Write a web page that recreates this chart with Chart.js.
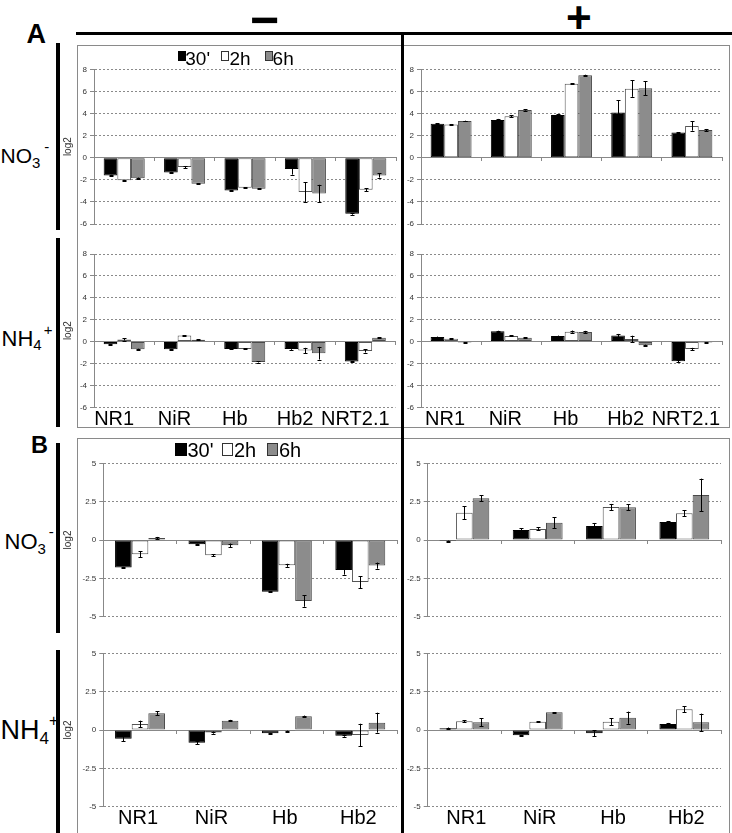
<!DOCTYPE html>
<html><head><meta charset="utf-8">
<script src="https://cdn.jsdelivr.net/npm/chart.js@4.4.0/dist/chart.umd.min.js"></script>
<style>
html,body{margin:0;padding:0;background:#fff;}
#page{position:relative;width:732px;height:833px;overflow:hidden;font-family:"Liberation Sans",Arial,sans-serif;background:#fff;}
.t{position:absolute;line-height:1;white-space:nowrap;color:#000;z-index:6;}
canvas{position:absolute;z-index:2;}
.rule{position:absolute;background:#000;z-index:5;}
.box{position:absolute;border:1px solid #8a8a8a;box-sizing:border-box;z-index:1;}
.sq{position:absolute;box-sizing:border-box;z-index:6;}
</style></head>
<body><div id="page">
  <div class="box" style="left:77px;top:45px;width:653px;height:383px;"></div>
  <div class="box" style="left:77px;top:438px;width:653px;height:420px;"></div>

  <div class="rule" style="left:76px;top:32px;width:656px;height:3px;"></div>
  <div class="rule" style="left:401px;top:32px;width:3px;height:801px;"></div>
  <div class="rule" style="left:56px;top:43px;width:4px;height:187px;"></div>
  <div class="rule" style="left:56px;top:238px;width:4px;height:189px;"></div>
  <div class="rule" style="left:56px;top:443px;width:4px;height:190px;"></div>
  <div class="rule" style="left:56px;top:650px;width:4px;height:183px;"></div>

  <div class="t" style="left:26.5px;top:20.6px;font-size:27px;font-weight:bold;">A</div>
  <div class="t" style="left:31px;top:433.5px;font-size:23.5px;font-weight:bold;">B</div>
  <div class="t" style="left:250px;top:-5px;font-size:50px;font-weight:bold;">−</div>
  <div class="t" style="left:566px;top:-4px;font-size:44px;font-weight:bold;">+</div>

  <div class="t" style="left:0.5px;top:145.2px;font-size:21px;">NO<span style="font-size:15px;position:relative;top:4.5px;">3</span><span style="font-size:15px;position:relative;top:-11px;margin-left:4px;">-</span></div>
  <div class="t" style="left:1.5px;top:328.4px;font-size:22px;">NH<span style="font-size:15px;position:relative;top:4px;">4</span><span style="font-size:15px;position:relative;top:-11px;margin-left:2px;">+</span></div>
  <div class="t" style="left:4.5px;top:531.4px;font-size:22px;">NO<span style="font-size:15px;position:relative;top:4.5px;">3</span><span style="font-size:15px;position:relative;top:-12px;margin-left:3px;">-</span></div>
  <div class="t" style="left:0.5px;top:717px;font-size:27px;">NH<span style="font-size:17px;position:relative;top:5px;">4</span><span style="font-size:16px;position:relative;top:-13px;margin-left:0px;">+</span></div>

  <div class="sq" style="left:178px;top:51px;width:8px;height:10px;background:#000;"></div>
  <div class="t" style="left:185.3px;top:48.9px;font-size:19px;">30'</div>
  <div class="sq" style="left:221px;top:51px;width:8px;height:10px;background:#fff;border:1px solid #333;"></div>
  <div class="t" style="left:229.5px;top:48.9px;font-size:19px;">2h</div>
  <div class="sq" style="left:264.5px;top:51px;width:8px;height:10px;background:#8c8c8c;border:1px solid #333;"></div>
  <div class="t" style="left:272.6px;top:48.9px;font-size:19px;">6h</div>

  <div class="sq" style="left:175px;top:443px;width:12px;height:13px;background:#000;"></div>
  <div class="t" style="left:187.5px;top:440px;font-size:20px;">30'</div>
  <div class="sq" style="left:222px;top:443px;width:11px;height:13px;background:#fff;border:1px solid #333;"></div>
  <div class="t" style="left:234px;top:440px;font-size:20px;">2h</div>
  <div class="sq" style="left:267px;top:443px;width:11px;height:13px;background:#8c8c8c;border:1px solid #333;"></div>
  <div class="t" style="left:279px;top:440px;font-size:20px;">6h</div>
</div>
<script>
// ---------- data ----------
const genesA = ['NR1', 'NiR', 'Hb', 'Hb2', 'NRT2.1'];
const genesB = ['NR1', 'NiR', 'Hb', 'Hb2'];
const timePoints = ["30'", '2h', '6h'];
const yTicksA = [-6, -4, -2, 0, 2, 4, 6, 8];
const yTicksB = [-5, -2.5, 0, 2.5, 5];

// A, NO3-, minus
const aNo3Minus30 = [-1.6, -1.33, -2.96, -1.03, -5.08];
const aNo3Minus30Err = [0.05, 0.05, 0.03, 0.5, 0.08];
const aNo3Minus2h = [-2.05, -0.85, -2.72, -3.1, -2.9];
const aNo3Minus2hErr = [0.03, 0.1, 0.03, 0.9, 0.12];
const aNo3Minus6h = [-1.85, -2.35, -2.8, -3.23, -1.6];
const aNo3Minus6hErr = [0.05, 0.05, 0.04, 0.78, 0.2];
// A, NO3-, plus
const aNo3Plus30 = [3.08, 3.41, 3.87, 4.1, 2.27];
const aNo3Plus30Err = [0.02, 0.1, 0.05, 1.1, 0.03];
const aNo3Plus2h = [3.0, 3.75, 6.7, 6.25, 2.87];
const aNo3Plus2hErr = [0.05, 0.1, 0.05, 0.74, 0.42];
const aNo3Plus6h = [3.32, 4.32, 7.46, 6.28, 2.5];
const aNo3Plus6hErr = [0.03, 0.06, 0.05, 0.64, 0.1];
// A, NH4+, minus
const aNh4Minus30 = [-0.25, -0.7, -0.67, -0.67, -1.82];
const aNh4Minus30Err = [0.03, 0.03, 0.05, 0.08, 0.05];
const aNh4Minus2h = [0.2, 0.55, -0.67, -0.82, -0.85];
const aNh4Minus2hErr = [0.1, 0.03, 0.05, 0.25, 0.15];
const aNh4Minus6h = [-0.7, 0.18, -1.86, -1.06, 0.36];
const aNh4Minus6hErr = [0.05, 0.03, 0.05, 0.58, 0.03];
// A, NH4+, plus
const aNh4Plus30 = [0.43, 0.94, 0.52, 0.55, -1.8];
const aNh4Plus30Err = [0.03, 0.05, 0.03, 0.15, 0.08];
const aNh4Plus2h = [0.27, 0.52, 0.91, 0.24, -0.67];
const aNh4Plus2hErr = [0.05, 0.05, 0.1, 0.3, 0.1];
const aNh4Plus6h = [-0.09, 0.36, 0.88, -0.33, -0.09];
const aNh4Plus6hErr = [0.02, 0.05, 0.1, 0.05, 0.02];
// B, NO3-, minus
const bNo3Minus30 = [-1.8, -0.28, -3.37, -1.96];
const bNo3Minus30Err = [0.05, 0.04, 0.04, 0.3];
const bNo3Minus2h = [-0.93, -1.0, -1.65, -2.74];
const bNo3Minus2hErr = [0.2, 0.07, 0.1, 0.39];
const bNo3Minus6h = [0.13, -0.35, -3.98, -1.67];
const bNo3Minus6hErr = [0.07, 0.12, 0.37, 0.2];
// B, NO3-, plus
const bNo3Plus30 = [-0.07, 0.65, 0.91, 1.17];
const bNo3Plus30Err = [0.03, 0.1, 0.2, 0.07];
const bNo3Plus2h = [1.78, 0.72, 2.15, 1.74];
const bNo3Plus2hErr = [0.41, 0.1, 0.2, 0.2];
const bNo3Plus6h = [2.72, 1.13, 2.13, 2.93];
const bNo3Plus6hErr = [0.2, 0.35, 0.2, 1.07];
// B, NH4+, minus
const bNh4Minus30 = [-0.57, -0.83, -0.22, -0.37];
const bNh4Minus30Err = [0.15, 0.1, 0.03, 0.07];
const bNh4Minus2h = [0.39, -0.17, -0.07, -0.33];
const bNh4Minus2hErr = [0.22, 0.07, 0.03, 0.74];
const bNh4Minus6h = [1.09, 0.61, 0.89, 0.48];
const bNh4Minus6hErr = [0.13, 0.05, 0.05, 0.65];
// B, NH4+, plus
const bNh4Plus30 = [0.11, -0.35, -0.22, 0.39];
const bNh4Plus30Err = [0.05, 0.02, 0.2, 0.07];
const bNh4Plus2h = [0.57, 0.54, 0.54, 1.35];
const bNh4Plus2hErr = [0.07, 0.02, 0.22, 0.2];
const bNh4Plus6h = [0.5, 1.15, 0.8, 0.5];
const bNh4Plus6hErr = [0.26, 0.02, 0.4, 0.57];

// ---------- drawing ----------
Chart.defaults.font.family = '"Liberation Sans", Arial, sans-serif';
const seriesStyle = [
  {bg: '#000000', border: '#000000'},
  {bg: '#ffffff', border: '#555555'},
  {bg: '#8c8c8c', border: '#4a4a4a'}
];

const errorBars = {
  id: 'errorBars',
  afterDatasetsDraw(chart) {
    const ctx = chart.ctx, ys = chart.scales.y;
    chart.data.datasets.forEach((ds, i) => {
      const meta = chart.getDatasetMeta(i);
      meta.data.forEach((bar, j) => {
        const e = ds.errors[j];
        if (!e) return;
        const v = ds.data[j];
        const yTop = ys.getPixelForValue(v + e), yBot = ys.getPixelForValue(v - e);
        const x = Math.round(bar.x) + 0.5;
        ctx.save();
        ctx.strokeStyle = '#000'; ctx.lineWidth = 1;
        ctx.beginPath();
        ctx.moveTo(x, yTop); ctx.lineTo(x, yBot);
        ctx.moveTo(x - 2, Math.round(yTop) + 0.5); ctx.lineTo(x + 2, Math.round(yTop) + 0.5);
        ctx.moveTo(x - 2, Math.round(yBot) + 0.5); ctx.lineTo(x + 2, Math.round(yBot) + 0.5);
        ctx.stroke();
        ctx.restore();
      });
    });
  }
};

function panel(p) {
  const cv = document.createElement('canvas');
  cv.width = p.w; cv.height = p.h;
  cv.style.left = p.x + 'px'; cv.style.top = p.y + 'px';
  document.getElementById('page').appendChild(cv);
  const scales = {
    x: {
      axis: 'x', type: 'category', position: {y: 0}, offset: true,
      grid: {display: true, offset: true, drawOnChartArea: false, drawTicks: true, tickLength: 3, color: '#888', tickColor: '#888'},
      border: {display: true, color: '#888', width: 1},
      ticks: {display: false}
    },
    y: {
      type: 'linear', position: 'left', min: p.min, max: p.max,
      afterBuildTicks: s => { s.ticks = p.ticks.map(v => ({value: v})); },
      afterFit: s => { s.width = p.yW; },
      grid: {color: '#8a8a8a', lineWidth: 1, drawTicks: true, tickLength: 4, tickColor: '#888', tickBorderDash: []},
      border: {display: true, color: '#888', width: 1, dash: [2, 2]},
      ticks: {font: {size: 8}, color: '#333', padding: 3, callback: v => String(v)},
      title: {display: !!p.title, text: 'log2', font: {size: 10}, color: '#333', padding: {top: 0, bottom: 0}}
    }
  };
  if (p.labelH) {
    scales.xl = {
      type: 'category', position: 'bottom', offset: true,
      grid: {display: false, drawTicks: false}, border: {display: false},
      ticks: {font: {size: 20}, color: '#000', padding: 0, maxRotation: 0, minRotation: 0, autoSkip: false, labelOffset: p.labelOffset || 0},
      afterFit: s => { s.height = p.labelH; }
    };
  }
  new Chart(cv, {
    type: 'bar',
    data: {
      labels: p.labels,
      datasets: p.series.map((s, i) => ({
        label: timePoints[i], data: s[0], errors: s[1],
        backgroundColor: seriesStyle[i].bg, borderColor: seriesStyle[i].border,
        borderWidth: 1, borderSkipped: false,
        barPercentage: 1, categoryPercentage: 0.68
      }))
    },
    options: {
      responsive: false, animation: false, devicePixelRatio: 1,
      layout: {padding: p.pad},
      plugins: {legend: {display: false}, tooltip: {enabled: false}},
      scales
    },
    plugins: [errorBars]
  });
}

panel({x: 62, y: 46, w: 338, h: 186, labels: genesA, ticks: yTicksA, min: -6, max: 8, yW: 32, title: true,
  pad: {top: 23.3, right: 4, bottom: 8, left: 0},
  series: [[aNo3Minus30, aNo3Minus30Err], [aNo3Minus2h, aNo3Minus2hErr], [aNo3Minus6h, aNo3Minus6hErr]]});
panel({x: 402, y: 46, w: 328, h: 186, labels: genesA, ticks: yTicksA, min: -6, max: 8, yW: 19,
  pad: {top: 23.3, right: 8, bottom: 8, left: 0},
  series: [[aNo3Plus30, aNo3Plus30Err], [aNo3Plus2h, aNo3Plus2hErr], [aNo3Plus6h, aNo3Plus6hErr]]});
panel({x: 62, y: 236, w: 338, h: 193, labels: genesA, ticks: yTicksA, min: -6, max: 8, yW: 32, title: true,
  pad: {top: 18, right: 4, bottom: 0, left: 0}, labelH: 21.7, labelOffset: -10,
  series: [[aNh4Minus30, aNh4Minus30Err], [aNh4Minus2h, aNh4Minus2hErr], [aNh4Minus6h, aNh4Minus6hErr]]});
panel({x: 402, y: 236, w: 328, h: 193, labels: genesA, ticks: yTicksA, min: -6, max: 8, yW: 19,
  pad: {top: 18, right: 8, bottom: 0, left: 0}, labelH: 21.7, labelOffset: -6,
  series: [[aNh4Plus30, aNh4Plus30Err], [aNh4Plus2h, aNh4Plus2hErr], [aNh4Plus6h, aNh4Plus6hErr]]});
panel({x: 62, y: 440, w: 338, h: 194, labels: genesB, ticks: yTicksB, min: -5, max: 5, yW: 41.3, title: true,
  pad: {top: 23.3, right: 3, bottom: 17.3, left: 0},
  series: [[bNo3Minus30, bNo3Minus30Err], [bNo3Minus2h, bNo3Minus2hErr], [bNo3Minus6h, bNo3Minus6hErr]]});
panel({x: 402, y: 440, w: 328, h: 194, labels: genesB, ticks: yTicksB, min: -5, max: 5, yW: 25.7,
  pad: {top: 23.3, right: 9, bottom: 17.3, left: 0},
  series: [[bNo3Plus30, bNo3Plus30Err], [bNo3Plus2h, bNo3Plus2hErr], [bNo3Plus6h, bNo3Plus6hErr]]});
panel({x: 62, y: 636, w: 338, h: 197, labels: genesB, ticks: yTicksB, min: -5, max: 5, yW: 41.3, title: true,
  pad: {top: 17.3, right: 3, bottom: 0, left: 0}, labelH: 26.3, labelOffset: -2,
  series: [[bNh4Minus30, bNh4Minus30Err], [bNh4Minus2h, bNh4Minus2hErr], [bNh4Minus6h, bNh4Minus6hErr]]});
panel({x: 402, y: 636, w: 328, h: 197, labels: genesB, ticks: yTicksB, min: -5, max: 5, yW: 25.7,
  pad: {top: 17.3, right: 9, bottom: 0, left: 0}, labelH: 26.3, labelOffset: 2,
  series: [[bNh4Plus30, bNh4Plus30Err], [bNh4Plus2h, bNh4Plus2hErr], [bNh4Plus6h, bNh4Plus6hErr]]});
</script>
</body></html>
